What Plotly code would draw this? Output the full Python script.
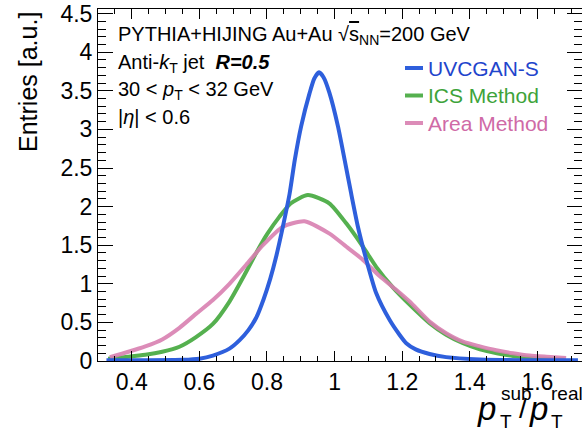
import plotly.graph_objects as go

# ---------------- data ----------------
x_uvcgan = [0.325, 0.45, 0.55, 0.60, 0.64, 0.689, 0.719, 0.745, 0.768, 0.79, 0.81, 0.827,
            0.847, 0.867, 0.882, 0.901, 0.926, 0.94, 0.954, 0.968, 0.985, 1.010, 1.030,
            1.049, 1.069, 1.094, 1.123, 1.163, 1.192, 1.212, 1.24, 1.281, 1.33, 1.43,
            1.55, 1.72]
y_uvcgan = [0.01, 0.01, 0.015, 0.03, 0.07, 0.16, 0.27, 0.40, 0.56, 0.80, 1.07, 1.35,
            1.74, 2.17, 2.60, 3.04, 3.47, 3.66, 3.74, 3.67, 3.47, 3.04, 2.60,
            2.17, 1.74, 1.31, 0.88, 0.53, 0.34, 0.23, 0.15, 0.09, 0.05, 0.02,
            0.01, 0.01]

x_ics = [0.33, 0.39, 0.44, 0.49, 0.541, 0.59, 0.64, 0.689, 0.734, 0.768, 0.80, 0.837,
         0.87, 0.921, 0.985, 1.035, 1.084, 1.123, 1.173, 1.222, 1.281, 1.33, 1.38,
         1.43, 1.48, 1.528, 1.577, 1.627, 1.68]
y_ics = [0.03, 0.055, 0.08, 0.12, 0.185, 0.31, 0.48, 0.77, 1.12, 1.40, 1.64, 1.87,
         2.04, 2.15, 2.04, 1.78, 1.48, 1.22, 0.95, 0.73, 0.49, 0.34, 0.23,
         0.15, 0.10, 0.065, 0.043, 0.03, 0.02]

x_area = [0.335, 0.39, 0.44, 0.49, 0.541, 0.59, 0.64, 0.689, 0.739, 0.788, 0.847, 0.911,
          0.985, 1.035, 1.084, 1.133, 1.183, 1.222, 1.281, 1.33, 1.38, 1.43, 1.478,
          1.528, 1.577, 1.627, 1.685]
y_area = [0.05, 0.12, 0.19, 0.28, 0.43, 0.61, 0.79, 1.0, 1.25, 1.50, 1.74, 1.81,
          1.65, 1.48, 1.31, 1.10, 0.92, 0.77, 0.51, 0.36, 0.25, 0.19, 0.14,
          0.10, 0.07, 0.055, 0.04]

series_names = ["UVCGAN-S", "ICS Method", "Area Method"]

BLUE, BLUE_T = "#2e5fdc", "#1f45cc"
GREEN, GREEN_T = "#55b04f", "#3da33a"
PINK, PINK_T = "rgba(216,128,176,0.9)", "#cf6aa6"

FONT = "Liberation Sans, Arial, Helvetica, sans-serif"

fig = go.Figure()
fig.add_trace(go.Scatter(
    x=x_ics, y=y_ics, mode="lines", name=series_names[1], showlegend=False,
    line=dict(color=GREEN, width=4, shape="spline", smoothing=0.6)))
fig.add_trace(go.Scatter(
    x=x_area, y=y_area, mode="lines", name=series_names[2], showlegend=False,
    line=dict(color=PINK, width=4, shape="spline", smoothing=0.6)))
fig.add_trace(go.Scatter(
    x=x_uvcgan, y=y_uvcgan, mode="lines", name=series_names[0], showlegend=False,
    line=dict(color=BLUE, width=4, shape="spline", smoothing=0.6)))

axis_common = dict(
    ticks="inside", tickwidth=1, tickcolor="black",
    showline=True, linecolor="black", linewidth=1, mirror="ticks",
    showgrid=False, zeroline=False,
    tickfont=dict(size=23, family=FONT, color="black"),
)

fig.update_layout(
    width=582, height=435,
    margin=dict(l=98, r=0, t=9, b=74),
    paper_bgcolor="white", plot_bgcolor="white",
    font=dict(family=FONT, color="black"),
    xaxis=dict(range=[0.3, 1.732], tick0=0, dtick=0.2, ticklen=10,
               minor=dict(ticks="inside", ticklen=5, dtick=0.05, tick0=0,
                          tickcolor="black", showgrid=False),
               **axis_common),
    yaxis=dict(range=[0, 4.56], tick0=0, dtick=0.5, ticklen=15,
               minor=dict(ticks="inside", ticklen=8, dtick=0.1, tick0=0,
                          tickcolor="black", showgrid=False),
               **axis_common),
    showlegend=False,
)

# helper: pixel -> paper coordinates
L, R, T, B, W, H = 98, 0, 9, 74, 582, 435
pw, ph = W - L - R, H - T - B


def px(xp):
    return (xp - L) / pw


def py(yp):
    return (H - B - yp) / ph


def add_text(text, xp, yp, size, xanchor="left", yanchor="middle", angle=0, color="black"):
    fig.add_annotation(text=text, xref="paper", yref="paper", x=px(xp), y=py(yp),
                       xanchor=xanchor, yanchor=yanchor, showarrow=False,
                       textangle=angle, font=dict(size=size, family=FONT, color=color))


# legend (ROOT-style TLegend: short line + coloured label)
legend_rows = [(series_names[0], BLUE, BLUE_T, 68),
               (series_names[1], GREEN, GREEN_T, 95.5),
               (series_names[2], PINK, PINK_T, 123)]
for label, lc, tc, yrow in legend_rows:
    fig.add_shape(type="line", xref="paper", yref="paper",
                  x0=px(405), x1=px(423), y0=py(yrow), y1=py(yrow),
                  line=dict(color=lc, width=4))
    add_text(label, 426, yrow, 21, color=tc)

# info text
add_text("PYTHIA+HIJING Au+Au √<span style='text-decoration:overline'>s</span><sub>NN</sub>=200 GeV",
         116, 36, 20)
add_text("Anti-<i>k</i><sub>T</sub> jet &nbsp;<b><i>R=0.5</i></b>", 116, 63, 20)
add_text("30 &lt; <i>p</i><sub>T</sub> &lt; 32 GeV", 116, 91, 20)
add_text("|<i>η</i>| &lt; 0.6", 116, 117, 20)

# y-axis title (top aligned, as in ROOT)
add_text("Entries [a.u.]", 28, 10, 25, xanchor="center", yanchor="top", angle=-90)

# x-axis title: p_T^sub / p_T^real with stacked sub/superscripts
add_text("<i>p</i>", 475, 409, 33)
add_text("sub", 499, 393, 19)
add_text("T", 498, 421, 19)
add_text("/", 517, 408, 28)
add_text("<i>p</i>", 527, 409, 33)
add_text("real", 549, 393, 19)
add_text("T", 549, 421, 19)

fig.write_html("out.html")
